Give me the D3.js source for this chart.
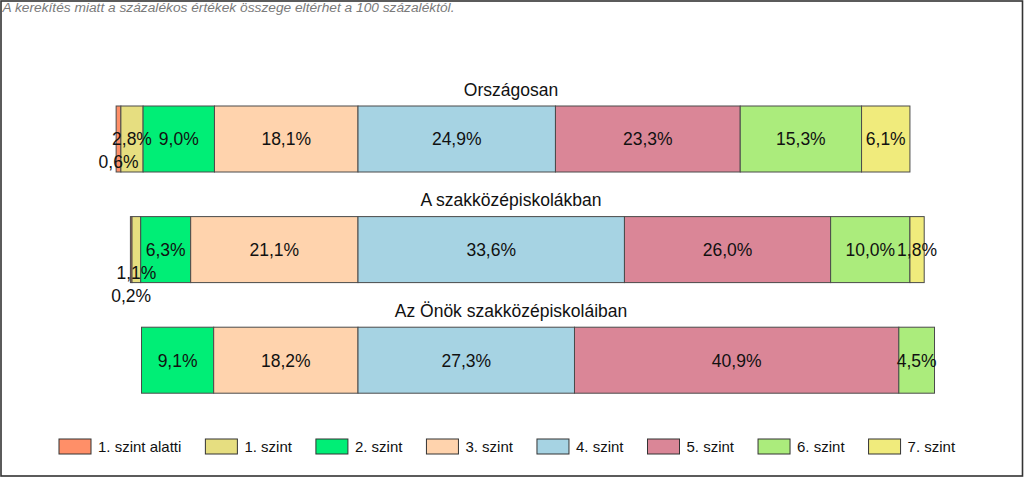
<!DOCTYPE html>
<html>
<head>
<meta charset="utf-8">
<script src="https://cdn.jsdelivr.net/npm/d3@7"></script>
<style>
  html, body { margin: 0; padding: 0; background: #fff; }
  svg { display: block; }
  text { font-family: "Liberation Sans", Arial, sans-serif; }
</style>
</head>
<body>
<svg id="chart" width="1024" height="478"></svg>
<script>
// ---- data ----
const note = "A kerekítés miatt a  százalékos értékek összege eltérhet a 100 százaléktól.";
const groups = ["Országosan", "A szakközépiskolákban", "Az Önök szakközépiskoláiban"];
const levels = ["1. szint alatti", "1. szint", "2. szint", "3. szint", "4. szint", "5. szint", "6. szint", "7. szint"];
const valuesOrszagos = [0.6, 2.8, 9.0, 18.1, 24.9, 23.3, 15.3, 6.1];
const valuesSzakkozep = [0.2, 1.1, 6.3, 21.1, 33.6, 26.0, 10.0, 1.8];
const valuesOnok = [0, 0, 9.1, 18.2, 27.3, 40.9, 4.5, 0];
const colors = ["#FF8F68", "#E6DE80", "#00EE76", "#FFD3AD", "#A6D3E3", "#DA8697", "#ABEC7C", "#F0EB7C"];
const pivotIndex = 4; // bars aligned at start of "4. szint"

const series = [valuesOrszagos, valuesSzakkozep, valuesOnok];

// ---- layout ----
const svg = d3.select("#chart");
const W = 1024, H = 478;
const pivotX = 358, pxPerPct = 7.93;

const x = d3.scaleLinear()
  .domain([-40, 80])
  .range([pivotX - 40 * pxPerPct, pivotX + 80 * pxPerPct]);

const bandH = 66;
const y = d3.scaleBand()
  .domain(groups)
  .range([106, 106 + 3 * 110.6])
  .paddingInner((110.6 - bandH) / 110.6)
  .paddingOuter(0)
  .align(0);
const yTop = g => 106 + groups.indexOf(g) * 110.6;

// frame
svg.append("rect")
  .attr("x", 1).attr("y", 1).attr("width", W - 2.5).attr("height", H - 3)
  .attr("fill", "none").attr("stroke", "#333").attr("stroke-width", 1.6);

// footnote
svg.append("text")
  .attr("x", 2.5).attr("y", 11.5)
  .attr("font-size", 12.5)
  .attr("font-style", "italic")
  .attr("fill", "#7a7a7a")
  .attr("textLength", 452)
  .attr("lengthAdjust", "spacingAndGlyphs")
  .text(note);

groups.forEach((g, gi) => {
  const vals = series[gi];
  const leftSum = d3.sum(vals.slice(0, pivotIndex));
  let cum = -leftSum;
  const segs = vals.map((v, i) => {
    const s = { v, i, x0: cum, x1: cum + v };
    cum += v;
    return s;
  });
  const top = yTop(g);
  const mid = top + bandH / 2;

  // title
  svg.append("text")
    .attr("x", 511).attr("y", top - 10.5)
    .attr("text-anchor", "middle")
    .attr("font-size", 17.5)
    .attr("fill", "#111")
    .text(g);

  const gG = svg.append("g");
  gG.selectAll("rect")
    .data(segs.filter(s => s.v > 0))
    .join("rect")
    .attr("x", d => x(d.x0))
    .attr("y", top)
    .attr("width", d => x(d.x1) - x(d.x0))
    .attr("height", bandH)
    .attr("fill", d => colors[d.i])
    .attr("stroke", "#4a4a4a")
    .attr("stroke-width", 1);

  // label offsets: leading tiny segments are pushed down
  const shown = segs.filter(s => s.v > 0);
  const shift = shown.map(() => 0);
  let lead = 0;
  while (lead < shown.length && shown[lead].v < 2) lead++;
  for (let k = 0; k < lead; k++) shift[k] = lead - k;

  gG.selectAll("text")
    .data(shown)
    .join("text")
    .attr("x", d => (x(d.x0) + x(d.x1)) / 2)
    .attr("y", (d, k) => mid + shift[k] * 23)
    .attr("dy", "0.36em")
    .attr("text-anchor", "middle")
    .attr("font-size", 17.5)
    .attr("fill", "#111")
    .text(d => d3.format(".1f")(d.v).replace(".", ",") + "%");
});

// legend
const lg = svg.append("g");
let lx = 59;
levels.forEach((l, i) => {
  lg.append("rect")
    .attr("x", lx).attr("y", 439).attr("width", 32).attr("height", 15)
    .attr("fill", colors[i]).attr("stroke", "#333").attr("stroke-width", 1);
  const t = lg.append("text")
    .attr("x", lx + 39).attr("y", 452)
    .attr("font-size", 15)
    .attr("fill", "#111")
    .text(l);
  const tw = t.node().getComputedTextLength();
  lx = lx + 39 + tw + 24;
});
</script>
</body>
</html>
